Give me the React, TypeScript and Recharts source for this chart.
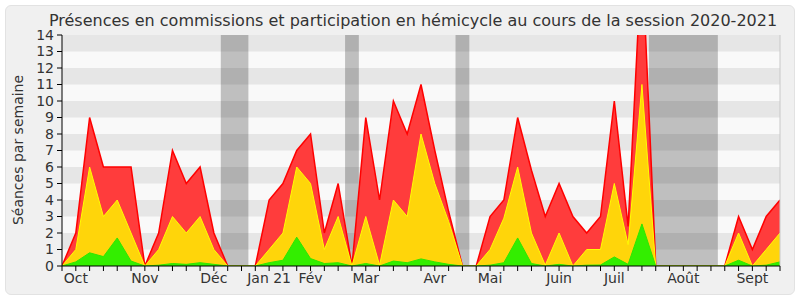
import React from 'react';
import { ComposedChart, Area, XAxis, YAxis, ReferenceArea, ReferenceLine } from 'recharts';

// Week indices of the session (0 = start of October 2020)
const weeks: number[] = Array.from({ length: 53 }, (_, i) => i);

// Top of red layer (total), yellow layer and green layer, per week
const redTop: number[] = [
  0, 2, 9, 6, 6, 6, 0, 2, 7, 5, 6, 2, 0, 0, 0, 4, 5, 7, 8, 2,
  5, 0, 9, 4, 10, 8, 11, 7, 3.3, 0, 0, 3, 4, 9, 5.8, 3, 5, 3, 2, 3,
  10, 2.4, 19, 0, 0, 0, 0, 0, 0, 3, 1, 3, 4,
];
const yellowTop: number[] = [
  0, 1, 6, 3, 4, 2, 0, 1, 3, 2, 3, 1, 0, 0, 0, 1, 2, 6, 5, 1,
  3, 0, 3, 0.05, 4, 3, 8, 5, 2.7, 0, 0, 1, 2.9, 6, 2, 0.05, 2, 0, 1, 1,
  5, 1.3, 11, 0, 0, 0, 0, 0, 0, 2, 0, 1, 2,
];
const greenTop: number[] = [
  0, 0.25, 0.8, 0.57, 1.7, 0.3, 0, 0.05, 0.15, 0.1, 0.2, 0.1, 0, 0, 0, 0.2, 0.35, 1.75, 0.45, 0.15,
  0.2, 0, 0.15, 0, 0.3, 0.2, 0.43, 0.25, 0.1, 0, 0, 0.05, 0.2, 1.7, 0.15, 0, 0.1, 0, 0.05, 0.06,
  0.55, 0.1, 2.55, 0, 0, 0, 0, 0, 0, 0.35, 0, 0.05, 0.25,
];

// Month labels and the week where each is written
const monthWeeks: number[] = [1, 6, 11, 15, 18, 22, 27, 31, 36, 40, 45, 50];
const monthNames: string[] = ['Oct', 'Nov', 'Déc', 'Jan 21', 'Fév', 'Mar', 'Avr', 'Mai', 'Juin', 'Juil', 'Août', 'Sept'];

// Parliamentary holidays (in weeks)
const vacationStarts: number[] = [11.5, 20.5, 28.5, 42.5];
const vacationEnds: number[] = [13.5, 21.5, 29.5, 47.5];

// Y ticks and the shaded horizontal bands
const yTicks: number[] = [0, 1, 2, 3, 4, 5, 6, 7, 8, 9, 10, 11, 12, 13, 14];
const stripeStarts: number[] = [1, 3, 5, 7, 9, 11, 13];

const data = weeks.map((w, i) => ({
  w,
  red: redTop[i],
  yellow: yellowTop[i],
  green: greenTop[i],
}));

const FONT = "'DejaVu Sans', Verdana, sans-serif";

const fmtWeek = (v: number) => {
  const k = monthWeeks.indexOf(v);
  return k >= 0 ? monthNames[k] : '';
};

export default function App() {
  return (
    <div style={{ position: 'absolute', left: 0, top: 0, width: 800, height: 300, fontFamily: FONT }}>
      <div
        style={{
          position: 'absolute',
          left: 5,
          top: 5,
          width: 790,
          height: 290,
          boxSizing: 'border-box',
          border: '1px solid #e2e2e2',
          borderRadius: 6,
          background: '#f0f0f0',
        }}
      />
      <div
        style={{
          position: 'absolute',
          left: 0,
          top: 13,
          width: 826,
          textAlign: 'center',
          fontSize: 16,
          lineHeight: '16px',
          color: '#333',
          whiteSpace: 'nowrap',
        }}
      >
        Présences en commissions et participation en hémicycle au cours de la session 2020-2021
      </div>
      <div
        style={{
          position: 'absolute',
          left: 18,
          top: 150,
          transform: 'translate(-50%, -50%) rotate(-90deg)',
          fontSize: 14,
          lineHeight: '14px',
          color: '#333',
          whiteSpace: 'nowrap',
        }}
      >
        Séances par semaine
      </div>
      <ComposedChart
        width={800}
        height={300}
        data={data}
        margin={{ top: 30, right: 20, bottom: 4, left: 12 }}
        style={{ position: 'absolute', left: 0, top: 0 }}
      >
        <XAxis
          dataKey="w"
          type="number"
          domain={[0, 52]}
          ticks={weeks}
          interval={0}
          tickFormatter={fmtWeek}
          tickSize={5}
          tickMargin={2}
          height={30}
          stroke="#000"
          tick={{ fill: '#333', fontSize: 14, fontFamily: FONT }}
          allowDataOverflow
        />
        <XAxis
          xAxisId="top"
          dataKey="w"
          type="number"
          orientation="top"
          domain={[0, 52]}
          ticks={weeks}
          interval={0}
          tick={false}
          tickSize={2}
          axisLine={false}
          height={5}
          tickLine={{ stroke: '#333' }}
        />
        <YAxis
          type="number"
          domain={[0, 14]}
          ticks={yTicks}
          interval={0}
          allowDataOverflow
          width={50}
          tickSize={5}
          tickMargin={3}
          stroke="#000"
          tick={{ fill: '#333', fontSize: 14, fontFamily: FONT }}
        />
        <ReferenceArea x1={0} x2={52} y1={0} y2={14} fill="#f9f9f9" fillOpacity={1} stroke="none" />
        {stripeStarts.map((s) => (
          <ReferenceArea key={'s' + s} x1={0} x2={52} y1={s} y2={s + 1} fill="#e6e6e6" fillOpacity={1} stroke="none" />
        ))}
        {vacationStarts.map((s, i) => (
          <ReferenceArea key={'v' + i} x1={s} x2={vacationEnds[i]} y1={0} y2={14} fill="#000" fillOpacity={0.23} stroke="none" />
        ))}
        <ReferenceLine x={52} stroke="#c8c8c8" />
        <Area type="linear" dataKey="red" stroke="#ff0000" strokeWidth={1.5} fill="#ff3c3c" fillOpacity={1} isAnimationActive={false} dot={false} activeDot={false} />
        <Area type="linear" dataKey="yellow" stroke="#ffff00" strokeWidth={1} fill="#ffd50a" fillOpacity={1} isAnimationActive={false} dot={false} activeDot={false} />
        <Area type="linear" dataKey="green" stroke="#2ee600" strokeWidth={1} fill="#33ee00" fillOpacity={1} isAnimationActive={false} dot={false} activeDot={false} />
      </ComposedChart>
    </div>
  );
}
